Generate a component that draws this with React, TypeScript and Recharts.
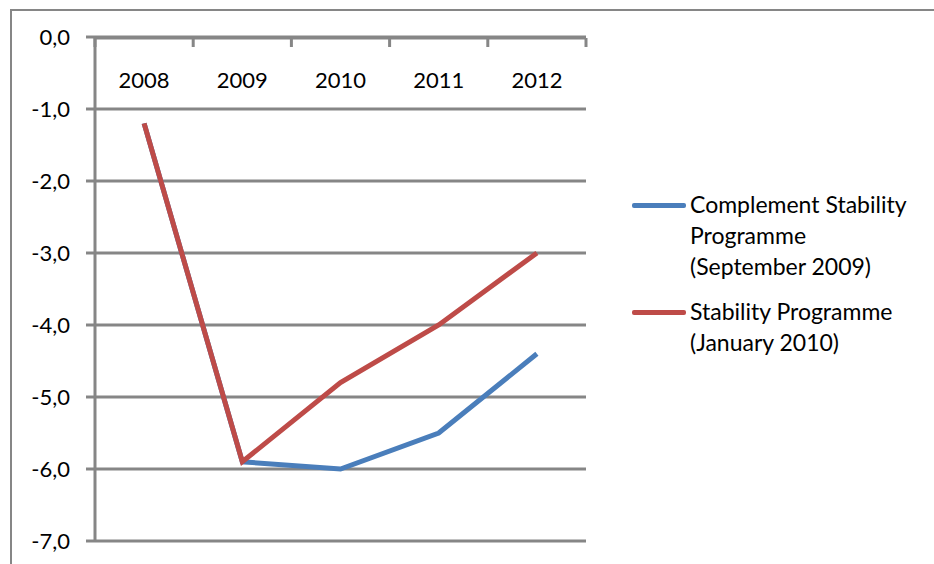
import { LineChart, Line, XAxis, YAxis, CartesianGrid, Legend } from "recharts";

const years = ["2008", "2009", "2010", "2011", "2012"];
const complement = [-1.2, -5.9, -6.0, -5.5, -4.4];
const stability = [-1.2, -5.9, -4.8, -4.0, -3.0];
const yTicks = [0, -1, -2, -3, -4, -5, -6, -7];
const catTicks = [1, 2, 3, 4, 5];
const edgeTicks = [0.5, 1.5, 2.5, 3.5, 4.5, 5.5];

const GRAY = "#868686";
const FONT = "Lato, 'Open Sans', sans-serif";

const data = years.map((year, i) => ({
  pos: i + 1,
  year,
  complement: complement[i],
  stability: stability[i],
}));

const seriesNames: Record<string, string[]> = {
  complement: ["Complement Stability", "Programme", "(September 2009)"],
  stability: ["Stability Programme", "(January 2010)"],
};

function LegendBox({ payload }: any) {
  return (
    <div style={{ fontFamily: FONT, fontSize: 23, color: "#000" }}>
      {(payload || []).map((p: any) => (
        <div key={p.dataKey} style={{ display: "flex", alignItems: "flex-start", marginBottom: 14 }}>
          <div style={{ width: 54, height: 5, background: p.color, marginTop: 14, marginRight: 4, borderRadius: 2 }} />
          <div style={{ lineHeight: "31px" }}>
            {seriesNames[p.dataKey].map((t) => (
              <div key={t}>{t}</div>
            ))}
          </div>
        </div>
      ))}
    </div>
  );
}

export default function App() {
  return (
    <div style={{ position: "absolute", left: 0, top: 0, width: 934, height: 564, overflow: "hidden", background: "#fff" }}>
      <div
        style={{
          position: "absolute",
          left: 10,
          top: 9,
          width: 960,
          height: 600,
          borderLeft: `2px solid ${GRAY}`,
          borderTop: `2px solid ${GRAY}`,
        }}
      />
      {/* vertical legend on the right reserves its own width (300) in the right offset */}
      <LineChart width={934} height={564} data={data} margin={{ top: 37, right: 48, bottom: 23, left: 0 }}>
        <CartesianGrid vertical={false} stroke={GRAY} strokeWidth={3} horizontalValues={yTicks} />
        {/* tick marks sit on the category boundaries, like Excel */}
        <XAxis
          xAxisId="edge"
          type="number"
          dataKey="pos"
          domain={[0.5, 5.5]}
          ticks={edgeTicks}
          orientation="top"
          mirror
          height={1}
          interval={0}
          axisLine={{ stroke: GRAY, strokeWidth: 3 }}
          tickLine={{ stroke: GRAY, strokeWidth: 3 }}
          tickSize={9}
          tickFormatter={() => ""}
        />
        <XAxis
          xAxisId="cat"
          type="number"
          dataKey="pos"
          domain={[0.5, 5.5]}
          ticks={catTicks}
          orientation="top"
          mirror
          height={1}
          axisLine={false}
          tickLine={false}
          tickSize={9}
          tickMargin={26}
          interval={0}
          tickFormatter={(v: number) => years[v - 1]}
          tick={{ fill: "#000", fontSize: 22, fontFamily: FONT }}
        />
        <YAxis
          type="number"
          domain={[-7, 0]}
          ticks={yTicks}
          interval={0}
          width={95}
          axisLine={{ stroke: GRAY, strokeWidth: 3 }}
          tickLine={{ stroke: GRAY, strokeWidth: 3 }}
          tickSize={9}
          tickMargin={16}
          tickFormatter={(v: number) => v.toFixed(1).replace(".", ",")}
          tick={{ fill: "#000", fontSize: 22, fontFamily: FONT }}
        />
        <Line
          xAxisId="cat"
          type="linear"
          dataKey="complement"
          name="Complement Stability Programme (September 2009)"
          stroke="#4a7ebb"
          strokeWidth={5}
          dot={false}
          isAnimationActive={false}
        />
        <Line
          xAxisId="cat"
          type="linear"
          dataKey="stability"
          name="Stability Programme (January 2010)"
          stroke="#be4b48"
          strokeWidth={5}
          dot={false}
          isAnimationActive={false}
        />
        <Legend
          content={<LegendBox />}
          layout="vertical"
          verticalAlign="top"
          align="right"
          wrapperStyle={{ position: "absolute", left: 632, top: 189, width: 300 }}
        />
      </LineChart>
    </div>
  );
}
